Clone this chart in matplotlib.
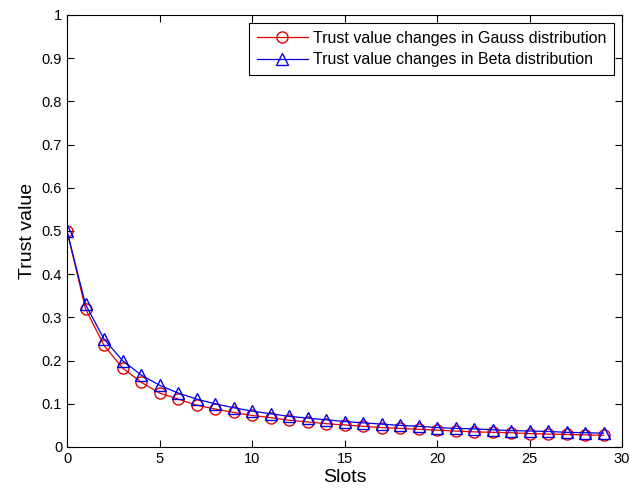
import matplotlib
matplotlib.use('Agg')
import matplotlib.pyplot as plt

plt.rcParams['font.family'] = ['Liberation Sans', 'DejaVu Sans']

# данные
slots = list(range(30))
gauss = [0.5, 0.32, 0.235, 0.183, 0.15, 0.125, 0.111, 0.097, 0.088, 0.08,
         0.073, 0.068, 0.062, 0.058, 0.054, 0.051, 0.048, 0.045, 0.043, 0.041,
         0.039, 0.037, 0.035, 0.034, 0.033, 0.031, 0.030, 0.029, 0.028, 0.027]
beta = [0.5, 0.33, 0.25, 0.2, 0.167, 0.143, 0.125, 0.111, 0.1, 0.091,
        0.083, 0.077, 0.071, 0.067, 0.063, 0.059, 0.056, 0.053, 0.05, 0.048,
        0.045, 0.043, 0.042, 0.04, 0.038, 0.037, 0.036, 0.034, 0.033, 0.032]
xticks = [0, 5, 10, 15, 20, 25, 30]
yticks = [0, 0.1, 0.2, 0.3, 0.4, 0.5, 0.6, 0.7, 0.8, 0.9, 1]
ytick_labels = ['0', '0.1', '0.2', '0.3', '0.4', '0.5', '0.6', '0.7', '0.8', '0.9', '1']

fig = plt.figure(figsize=(6.3, 4.97), dpi=100)
ax = fig.add_axes([67 / 630, 50 / 497, 555 / 630, 432 / 497])

ax.plot(slots, gauss, color='#e00000', marker='o', markersize=8, markerfacecolor='none',
        linewidth=0.9, label='Trust value changes in Gauss distribution')
ax.plot(slots, beta, color='#0000e0', marker='^', markersize=8, markerfacecolor='none',
        linewidth=0.9, label='Trust value changes in Beta distribution')

ax.set_xlim(0, 30)
ax.set_ylim(0, 1)
ax.set_xticks(xticks)
ax.set_yticks(yticks)
ax.set_yticklabels(ytick_labels)
ax.tick_params(direction='in', top=True, right=True, labelsize=10.5, length=5)
ax.set_xlabel('Slots', fontsize=14, labelpad=2)
ax.set_ylabel('Trust value', fontsize=14, labelpad=4)

leg = ax.legend(loc='upper right', fontsize=11.5, fancybox=False, edgecolor='black',
                framealpha=1, borderaxespad=0.5, handlelength=3.2,
                borderpad=0.5, labelspacing=0.4, handletextpad=0.3)
leg.get_frame().set_linewidth(0.8)

fig.savefig('out.png', dpi=100)
